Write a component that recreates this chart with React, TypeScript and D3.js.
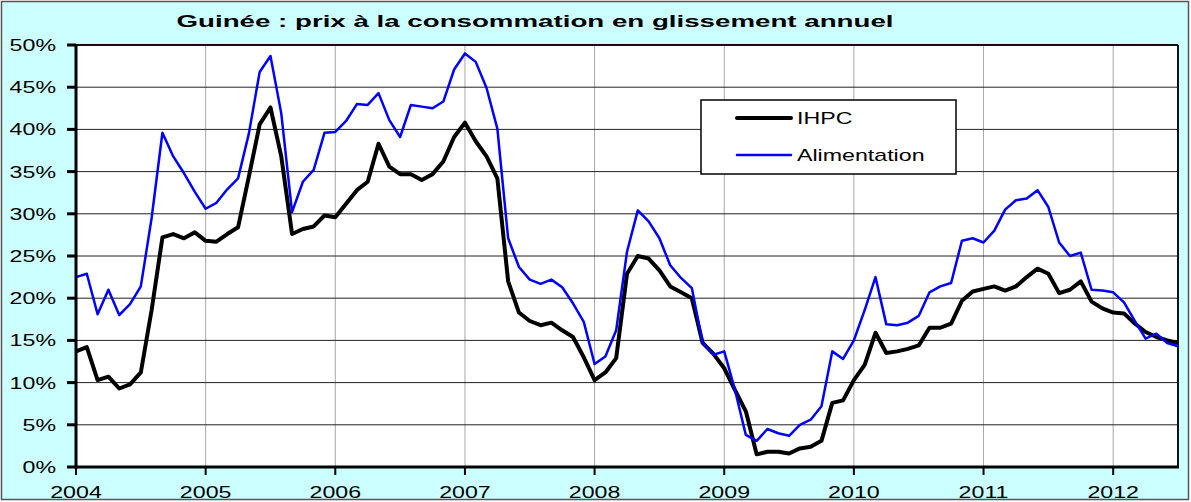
import { useEffect, useRef } from "react";
import * as d3 from "d3";

// monthly values, Jan 2004 -> Jul 2012 (year-on-year %)
const years = ["2004", "2005", "2006", "2007", "2008", "2009", "2010", "2011", "2012"];
const yTicks = [0, 5, 10, 15, 20, 25, 30, 35, 40, 45, 50];

const ihpc = [
    13.7, 14.2, 10.3, 10.7, 9.3, 9.8, 11.2, 18.6, 27.2, 27.6, 27.1, 27.8,
    26.8, 26.7, 27.6, 28.4, 34.4, 40.6, 42.6, 36.8, 27.6, 28.2, 28.5, 29.8,
    29.6, 31.2, 32.8, 33.8, 38.3, 35.6, 34.7, 34.7, 34.0, 34.7, 36.2, 39.1,
    40.8, 38.6, 36.8, 34.2, 22.0, 18.3, 17.3, 16.8, 17.1, 16.2, 15.4, 13.0,
    10.3, 11.2, 12.9, 22.9, 25.0, 24.7, 23.3, 21.4, 20.7, 20.0, 14.7, 13.4,
    11.7, 9.1, 6.6, 1.5, 1.8, 1.8, 1.6, 2.2, 2.4, 3.1, 7.6, 7.9,
    10.3, 12.1, 15.9, 13.5, 13.7, 14.0, 14.4, 16.5, 16.5, 17.0, 19.7, 20.8,
    21.1, 21.4, 20.9, 21.4, 22.5, 23.5, 22.9, 20.6, 21.0, 22.0, 19.6, 18.8,
    18.3, 18.2, 17.0, 16.0, 15.4, 15.0, 14.7,
];

const alimentation = [
    22.5, 22.9, 18.1, 21.0, 18.0, 19.3, 21.4, 29.5, 39.6, 36.8, 34.8, 32.6,
    30.6, 31.3, 32.9, 34.2, 39.5, 46.8, 48.7, 41.9, 30.2, 33.8, 35.2, 39.6,
    39.7, 41.0, 43.0, 42.9, 44.3, 41.1, 39.1, 42.9, 42.7, 42.5, 43.3, 47.1,
    49.0, 48.0, 44.9, 40.1, 27.1, 23.7, 22.2, 21.7, 22.2, 21.3, 19.4, 17.2,
    12.2, 13.1, 16.2, 25.5, 30.4, 29.1, 27.1, 23.9, 22.4, 21.2, 14.7, 13.3,
    13.7, 9.1, 3.8, 3.1, 4.5, 4.0, 3.7, 5.0, 5.6, 7.2, 13.7, 12.8,
    15.0, 18.6, 22.5, 16.9, 16.8, 17.1, 17.9, 20.7, 21.4, 21.8, 26.8, 27.1,
    26.6, 28.0, 30.5, 31.6, 31.8, 32.8, 30.8, 26.6, 25.0, 25.4, 21.0, 20.9,
    20.7, 19.5, 17.3, 15.2, 15.8, 14.7, 14.3,
];

const series = [
    { name: "IHPC", values: ihpc, color: "#000000", width: 4 },
    { name: "Alimentation", values: alimentation, color: "#0000ff", width: 2.5 },
];

const W = 1191;
const H = 502;
const SX = 1.45; // the reference text is stretched horizontally

const App = () => {
    const svgRef = useRef<SVGSVGElement | null>(null);

    useEffect(() => {
        const svg = d3.select(svgRef.current);
        svg.selectAll("*").remove();

        const plot = { left: 76, right: 1178, top: 45, bottom: 467 };
        const font = "'Liberation Sans', Arial, sans-serif";

        const x = d3.scaleLinear().domain([0, ihpc.length - 1]).range([plot.left, plot.right]);
        const y = d3.scaleLinear().domain([0, 50]).range([plot.bottom, plot.top]);

        // chart background
        svg.append("rect")
            .attr("x", 1.5).attr("y", 1.5)
            .attr("width", W - 4).attr("height", H - 4)
            .attr("fill", "#ccffff")
            .attr("stroke", "#555").attr("stroke-width", 1.5);

        svg.append("rect")
            .attr("x", plot.left).attr("y", plot.top)
            .attr("width", plot.right - plot.left).attr("height", plot.bottom - plot.top)
            .attr("fill", "#fff");

        const stretched = (g: any, tx: number, ty: number, txt: string, sx = SX) =>
            g.append("text")
                .attr("transform", `translate(${tx},${ty}) scale(${sx},1)`)
                .attr("font-family", font)
                .text(txt);

        // title
        stretched(svg, 535, 27, "Guinée : prix à la consommation en glissement annuel", 1.63)
            .attr("text-anchor", "middle")
            .attr("font-size", 17)
            .attr("font-weight", "bold");

        // vertical gridlines (years)
        years.forEach((yr, i) => {
            if (i === 0) return;
            svg.append("line")
                .attr("x1", x(i * 12)).attr("x2", x(i * 12))
                .attr("y1", plot.top).attr("y2", plot.bottom)
                .attr("stroke", "#a8a8a8").attr("stroke-width", 1);
        });

        // horizontal gridlines
        yTicks.forEach((t) => {
            if (t === 0) return;
            svg.append("line")
                .attr("x1", plot.left).attr("x2", plot.right)
                .attr("y1", y(t)).attr("y2", y(t))
                .attr("stroke", "#222").attr("stroke-width", 1);
        });

        // plot border
        svg.append("line")
            .attr("x1", plot.left).attr("x2", plot.right)
            .attr("y1", plot.top).attr("y2", plot.top)
            .attr("stroke", "#111").attr("stroke-width", 2);
        svg.append("line")
            .attr("x1", plot.right).attr("x2", plot.right)
            .attr("y1", plot.top).attr("y2", plot.bottom)
            .attr("stroke", "#111").attr("stroke-width", 2);

        // lines
        const line = d3.line<number>()
            .x((d, i) => x(i))
            .y((d) => y(d));

        series.forEach((s) => {
            svg.append("path")
                .datum(s.values)
                .attr("d", line)
                .attr("fill", "none")
                .attr("stroke", s.color)
                .attr("stroke-width", s.width)
                .attr("stroke-linejoin", "round");
        });

        // axes
        svg.append("line")
            .attr("x1", plot.left).attr("x2", plot.left)
            .attr("y1", plot.top - 1).attr("y2", plot.bottom + 1.5)
            .attr("stroke", "#000").attr("stroke-width", 3);
        svg.append("line")
            .attr("x1", plot.left - 1.5).attr("x2", plot.right + 1)
            .attr("y1", plot.bottom).attr("y2", plot.bottom)
            .attr("stroke", "#000").attr("stroke-width", 3);

        yTicks.forEach((t) => {
            svg.append("line")
                .attr("x1", plot.left - 9).attr("x2", plot.left)
                .attr("y1", y(t)).attr("y2", y(t))
                .attr("stroke", "#000").attr("stroke-width", 3);
            stretched(svg, 56, y(t) + 6, `${t}%`)
                .attr("text-anchor", "end")
                .attr("font-size", 16)
                .attr("fill", "#000");
        });

        years.forEach((yr, i) => {
            svg.append("line")
                .attr("x1", x(i * 12)).attr("x2", x(i * 12))
                .attr("y1", plot.bottom).attr("y2", plot.bottom + 8)
                .attr("stroke", "#000").attr("stroke-width", 2);
            stretched(svg, x(i * 12), 498, yr)
                .attr("text-anchor", "middle")
                .attr("font-size", 16)
                .attr("fill", "#000");
        });

        // legend
        const lg = svg.append("g");
        lg.append("rect")
            .attr("x", 701).attr("y", 100)
            .attr("width", 255).attr("height", 74)
            .attr("fill", "#fff")
            .attr("stroke", "#000").attr("stroke-width", 1.5);
        series.forEach((s, i) => {
            const ly = 118 + i * 37;
            lg.append("line")
                .attr("x1", 737).attr("x2", 791)
                .attr("y1", ly).attr("y2", ly)
                .attr("stroke", s.color).attr("stroke-width", s.width)
                .attr("stroke-linecap", "round");
            stretched(lg, 797, ly + 6, s.name)
                .attr("font-size", 16)
                .attr("fill", "#000");
        });
    }, []);

    return (
        <svg
            ref={svgRef}
            width={W}
            height={H}
            style={{ position: "absolute", left: 0, top: 0 }}
        ></svg>
    );
};

export default App;
